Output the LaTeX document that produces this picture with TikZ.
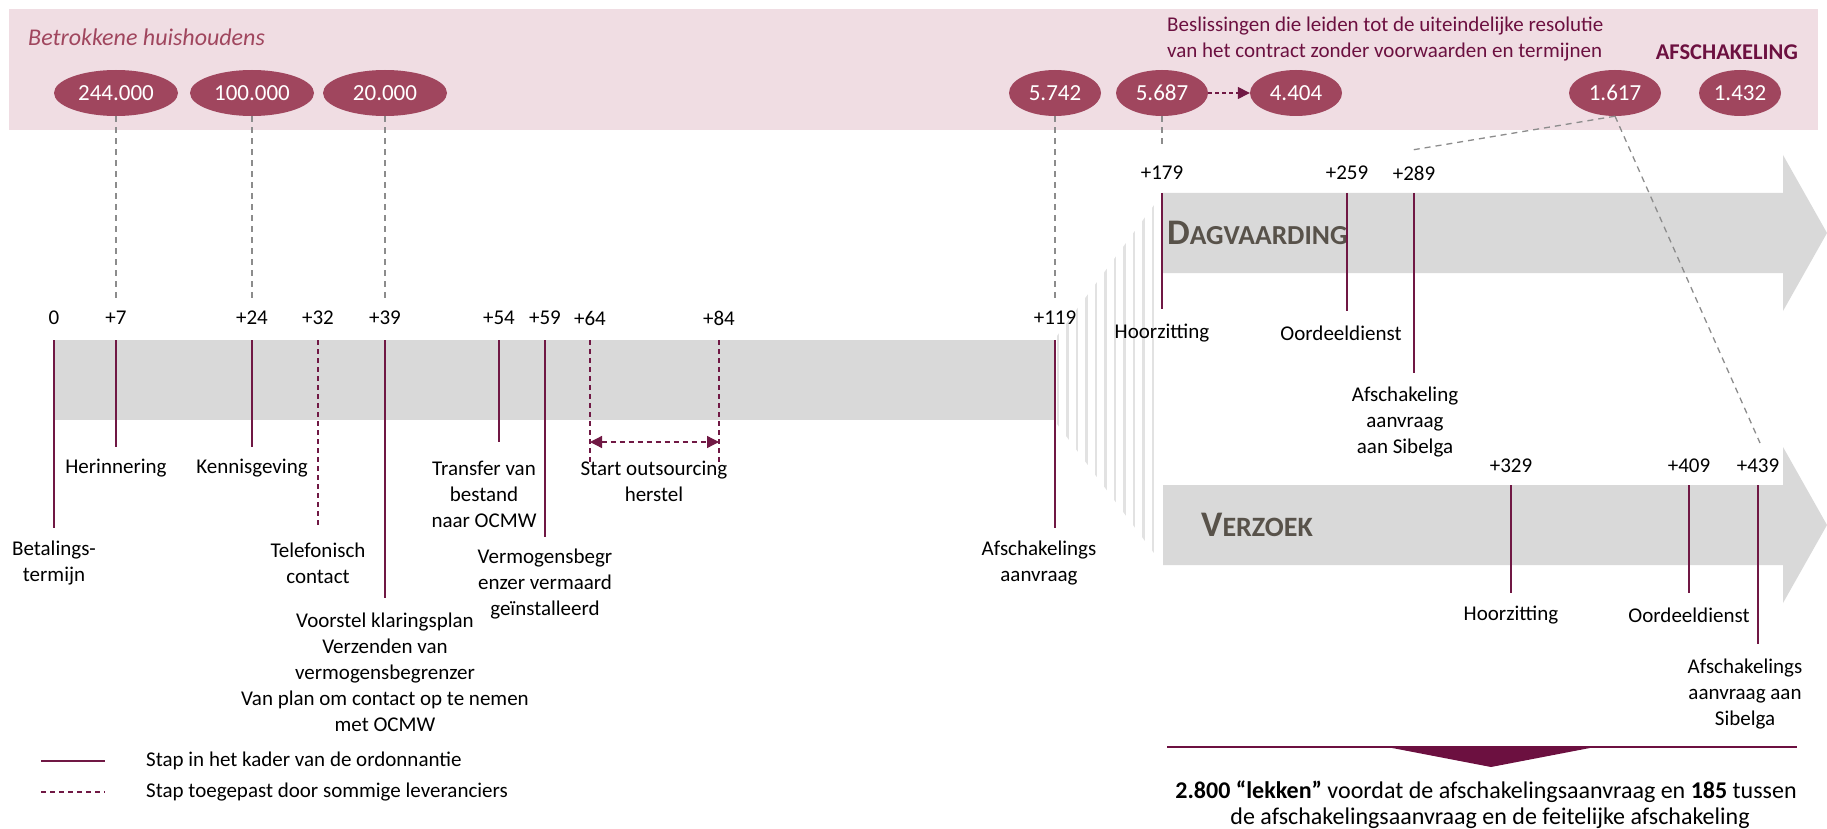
\documentclass[tikz,border=0pt]{standalone}
\usepackage{fontspec}
\setmainfont{Carlito}
\usetikzlibrary{arrows.meta,shapes.geometric}
\definecolor{pinkbg}{RGB}{240,221,227}
\definecolor{rose}{RGB}{160,70,94}
\definecolor{maroon}{RGB}{112,24,68}
\definecolor{darkmaroon}{RGB}{108,16,64}
\definecolor{bargray}{RGB}{217,217,217}
\definecolor{dashgray}{RGB}{140,140,140}
\definecolor{titlegray}{RGB}{88,82,74}
\definecolor{stripegray}{RGB}{226,226,226}
\begin{document}
\begin{tikzpicture}[x=1pt,y=-1pt,
  lbl/.style={font=\fontsize{21}{26}\selectfont, align=center, inner sep=0pt},
  num/.style={ellipse, fill=rose, text=white, minimum height=46pt, inner sep=0pt, font=\fontsize{23}{25}\selectfont},
  tick/.style={draw=maroon, line width=1.5pt},
  dtick/.style={draw=maroon, line width=1.5pt, dash pattern=on 5pt off 4pt},
  guide/.style={draw=dashgray, line width=1.3pt, dash pattern=on 6pt off 5pt},
  tip/.style={-{Triangle[length=12pt,width=12pt]}},
]
\useasboundingbox (0,0) rectangle (1827,829);

% pink band
\fill[pinkbg] (9,9) rectangle (1818,130);
\node[anchor=west, inner sep=0pt, text=rose, font=\itshape\fontsize{24}{28}\selectfont] (betr) at (28,37) {Betrokkene huishoudens};
\node[anchor=west, inner sep=0pt, text=darkmaroon, align=left, font=\fontsize{21}{26}\selectfont] (besl) at (1167,39) {Beslissingen die leiden tot de uiteindelijke resolutie\\van het contract zonder voorwaarden en termijnen};
\node[anchor=east, inner sep=0pt, text=darkmaroon, font=\bfseries\fontsize{22.5}{24}\selectfont] (afsch) at (1798,52) {AFSCHAKELING};

\node[num, minimum width=124pt] (e1) at (116,93) {244.000};
\node[num, minimum width=124pt] (e2) at (252,93) {100.000};
\node[num, minimum width=124pt] (e3) at (385,93) {20.000};
\node[num, minimum width=92pt] (e4) at (1055,93) {5.742};
\node[num, minimum width=92pt] (e5) at (1162,93) {5.687};
\node[num, minimum width=92pt] (e6) at (1296,93) {4.404};
\node[num, minimum width=92pt] (e7) at (1615,93) {1.617};
\node[num, minimum width=82pt] (e8) at (1740,93) {1.432};
\draw[maroon, line width=1.3pt, dash pattern=on 4pt off 3pt, tip] (e5) -- (e6);

% main bar
\fill[bargray] (54,340) rectangle (1054,420);
% stripes
\begin{scope}
\clip (1054,340) -- (1163,193) -- (1163,565) -- (1054,420) -- cycle;
\foreach \x in {1058,1067.5,...,1162} \draw[stripegray, line width=2.6pt] (\x,150) -- (\x,600);
\end{scope}
% branch arrows
\fill[bargray] (1163,193) -- (1783,193) -- (1783,155) -- (1827,233) -- (1783,311) -- (1783,273) -- (1163,273) -- cycle;
\fill[bargray] (1163,485) -- (1783,485) -- (1783,447) -- (1827,525) -- (1783,603) -- (1783,565) -- (1163,565) -- cycle;
\node[anchor=west, inner sep=0pt, text=titlegray, font=\bfseries] (dag) at (1167,233) {\fontsize{36}{36}\selectfont D\fontsize{27.5}{28}\selectfont AGVAARDING};
\node[anchor=west, inner sep=0pt, text=titlegray, font=\bfseries] (verz) at (1201,525) {\fontsize{36}{36}\selectfont V\fontsize{28}{28}\selectfont ERZOEK};

% main ticks
\foreach \n/\x/\y in {0/54/528, 7/116/447, 24/252/447, 39/385/598, 54/499/442, 59/545/537, 119/1055/528}{
  \coordinate (ta\n) at (\x,340);
  \coordinate (tb\n) at (\x,\y);
  \draw[tick] (ta\n) -- (tb\n);
}
\foreach \n/\x/\y in {32/318/525, 64/590/463, 84/719/463}{
  \coordinate (ta\n) at (\x,340);
  \coordinate (tb\n) at (\x,\y);
  \draw[dtick] (ta\n) -- (tb\n);
}
\foreach \n/\t/\x in {0/0/54, 7/+7/116, 24/+24/252, 32/+32/318, 39/+39/385, 54/+54/499, 59/+59/545, 64/+64/590, 84/+84/719, 119/+119/1055}{
  \node[lbl] (n\n) at (\x,318) {\t};
}
\coordinate (d64) at (590,442);
\coordinate (d84) at (719,442);
\draw[maroon, line width=1.3pt, dash pattern=on 5pt off 4pt, {Triangle[length=12pt,width=12pt]}-{Triangle[length=12pt,width=12pt]}] (d64) -- (d84);

\node[lbl] (l0) at (54,563) {Betalings-\\termijn};
\node[lbl] (l7) at (116,468) {Herinnering};
\node[lbl] (l24) at (252,468) {Kennisgeving};
\node[lbl] (l32) at (318,563) {Telefonisch\\contact};
\node[lbl] (l39) at (385,672) {Voorstel klaringsplan\\Verzenden van\\vermogensbegrenzer\\Van plan om contact op te nemen\\met OCMW};
\node[lbl] (l54) at (484,494) {Transfer van\\bestand\\naar OCMW};
\node[lbl] (l59) at (545,584) {Vermogensbegr\\enzer vermaard\\geïnstalleerd};
\node[lbl] (l64) at (654,481) {Start outsourcing\\herstel};
\node[lbl] (l119) at (1039,563) {Afschakelings\\aanvraag};

% guides
\foreach \e/\x in {e1/116, e2/252, e3/385, e4/1055}{
  \coordinate (g\e) at (\x,298);
  \draw[guide] (\e.south) -- (g\e);
}
\coordinate (ge5) at (1162,147);
\draw[guide] (e5.south) -- (ge5);
\coordinate (g289) at (1412,150);
\coordinate (g439) at (1760,443);
\draw[guide] (e7.south) -- (g289);
\draw[guide] (e7.south) -- (g439);

% upper ticks
\foreach \n/\x/\y in {179/1162/309, 259/1347/311, 289/1414/373}{
  \coordinate (ta\n) at (\x,193);
  \coordinate (tb\n) at (\x,\y);
  \draw[tick] (ta\n) -- (tb\n);
  \node[lbl] (n\n) at (\x,173) {+\n};
}
\node[lbl] (l179) at (1162,333) {Hoorzitting};
\node[lbl] (l259) at (1341,333) {Oordeeldienst};
\node[lbl] (l289) at (1405,422) {Afschakeling\\aanvraag\\aan Sibelga};

% lower ticks
\foreach \n/\x/\y in {329/1511/593, 409/1689/593, 439/1758/644}{
  \coordinate (ta\n) at (\x,485);
  \coordinate (tb\n) at (\x,\y);
  \draw[tick] (ta\n) -- (tb\n);
  \node[lbl] (n\n) at (\x,466) {+\n};
}
\node[lbl] (l329) at (1511,615) {Hoorzitting};
\node[lbl] (l409) at (1689,615) {Oordeeldienst};
\node[lbl] (l439) at (1745,694) {Afschakelings\\aanvraag aan\\Sibelga};

% summary
\coordinate (s1) at (1167,747);
\coordinate (s2) at (1797,747);
\draw[darkmaroon, line width=2.5pt] (s1) -- (s2);
\fill[darkmaroon] (1387,747) -- (1595,747) -- (1491,767) -- cycle;
\node[anchor=base, inner sep=0pt, font=\fontsize{24}{28}\selectfont] (sum1) at (1486,798) {\textbf{2.800 “lekken"} voordat de afschakelingsaanvraag en \textbf{185} tussen};
\node[anchor=base, inner sep=0pt, font=\fontsize{24}{28}\selectfont] (sum2) at (1490,824) {de afschakelingsaanvraag en de feitelijke afschakeling};

% legend
\coordinate (la) at (41,761);
\coordinate (lb) at (105,761);
\coordinate (lc) at (41,792);
\coordinate (ld) at (105,792);
\draw[tick] (la) -- (lb);
\draw[dtick] (lc) -- (ld);
\node[lbl, anchor=west] (leg1) at (146,761) {Stap in het kader van de ordonnantie};
\node[lbl, anchor=west] (leg2) at (146,792) {Stap toegepast door sommige leveranciers};
\end{tikzpicture}
\end{document}
